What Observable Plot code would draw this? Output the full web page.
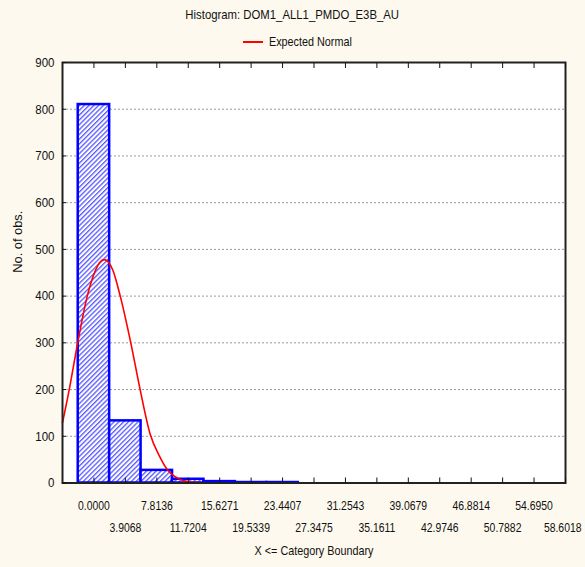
<!DOCTYPE html>
<html><head><meta charset="utf-8">
<script src="https://cdn.jsdelivr.net/npm/d3@7"></script>
<script src="https://cdn.jsdelivr.net/npm/@observablehq/plot@0.6"></script>
<style>
body{margin:0;background:#fdf9ee;width:585px;height:567px;overflow:hidden;position:relative;font-family:"Liberation Sans",Arial,sans-serif;color:#111;}
#title{position:absolute;top:6px;left:0;width:585px;text-align:center;font-size:13.5px;line-height:18px;}
#title span{display:inline-block;transform:scaleX(0.84);transform-origin:center;}
#legend{position:absolute;top:33px;left:243px;font-size:13.5px;line-height:18px;display:flex;align-items:center;}
#legend svg{margin-right:6px}
#legend span{display:inline-block;transform:scaleX(0.8);transform-origin:left center;}
#chart{position:absolute;top:54px;left:0}
</style></head><body>
<div id="title"><span id="titletext"></span></div>
<div id="legend"><svg width="20" height="18"><line x1="0" x2="20" y1="9" y2="9" stroke="#ff0000" stroke-width="2"/></svg><span id="legtext"></span></div>
<div id="chart"></div>
<script>
const titleText = "Histogram: DOM1_ALL1_PMDO_E3B_AU";
const legendText = "Expected Normal";
const xTitle = "X <= Category Boundary";
const yTitle = "No. of obs.";
const binWidth = 3.9068;
const binCenters = [0.0000, 3.9068, 7.8136, 11.7204, 15.6271, 19.5339, 23.4407];
const counts = [810, 133, 27, 8, 3, 1, 1];
const tickValues = [0.0000, 3.9068, 7.8136, 11.7204, 15.6271, 19.5339, 23.4407, 27.3475, 31.2543, 35.1611, 39.0679, 42.9746, 46.8814, 50.7882, 54.6950, 58.6018];
const tickLabels = ["0.0000", "3.9068", "7.8136", "11.7204", "15.6271", "19.5339", "23.4407", "27.3475", "31.2543", "35.1611", "39.0679", "42.9746", "46.8814", "50.7882", "54.6950", "58.6018"];
const yTicks = [0, 100, 200, 300, 400, 500, 600, 700, 800, 900];
const curveX = [-3.9068, -3.07, -2.02, -0.83, 0.22, 0.72, 1.28, 1.84, 2.34, 3.27, 4.58, 5.74, 6.98, 8.19, 9.06, 9.93, 11.14, 12.79, 15.28, 58.6018];
const curveY = [129, 200, 300, 400, 456, 472, 478, 472, 456, 400, 300, 200, 105, 56, 30, 15, 5, 1, 0, 0];

document.getElementById("titletext").textContent = titleText;
document.getElementById("legtext").textContent = legendText;

const bars = binCenters.map((c, i) => ({x1: c - binWidth / 2, x2: c + binWidth / 2, y: counts[i]}));
const curve = curveX.map((x, i) => ({x, y: curveY[i]}));
const labelMap = new Map(tickValues.map((v, i) => [v, tickLabels[i]]));
const evenTicks = tickValues.filter((v, i) => i % 2 === 0);
const oddTicks = tickValues.filter((v, i) => i % 2 === 1);
const lastLabel = tickLabels[tickLabels.length - 1];

const chart = Plot.plot({
  width: 585, height: 513,
  marginLeft: 62, marginRight: 20, marginTop: 8, marginBottom: 84.5,
  style: {background: "transparent", fontFamily: '"Liberation Sans",Arial,sans-serif', fontSize: "13.5px", color: "#111"},
  x: {domain: [tickValues[0] - binWidth, tickValues[tickValues.length - 1]]},
  y: {domain: [yTicks[0], yTicks[yTicks.length - 1]]},
  marks: [
    Plot.frame({fill: "white", stroke: null}),
    Plot.gridY(yTicks.slice(1, -1), {stroke: "#9a9a9a", strokeOpacity: 1, strokeDasharray: "2,2"}),
    Plot.rectY(bars, {x1: "x1", x2: "x2", y: "y", fill: "url(#hatch)", stroke: "#0000ff", strokeWidth: 2.5}),
    Plot.line(curve, {x: "x", y: "y", stroke: "#ff0000", strokeWidth: 1.6, curve: "monotone-x"}),
    Plot.frame({stroke: "#222", strokeWidth: 2}),
    Plot.axisY(yTicks, {tickSize: 0, tickPadding: 8, label: null, tickFormat: d => String(d)}),
    Plot.axisY(yTicks, {tickSize: -4, text: null, label: null}),
    Plot.axisX(evenTicks, {tickSize: 0, tickPadding: 18, label: null, fontSize: 13, tickFormat: d => labelMap.get(d)}),
    Plot.axisX(oddTicks, {tickSize: 0, tickPadding: 40, label: null, fontSize: 13, tickFormat: d => labelMap.get(d)}),
    Plot.axisX(tickValues, {anchor: "bottom", tickSize: -5, text: null, label: null}),
    Plot.axisX(tickValues, {anchor: "top", tickSize: -5, text: null, label: null}),
    Plot.text([xTitle], {frameAnchor: "bottom", dy: 72, text: d => d}),
    Plot.text([yTitle], {frameAnchor: "left", dx: -45, rotate: -90, text: d => d})
  ]
});

const ns = "http://www.w3.org/2000/svg";
const defs = document.createElementNS(ns, "defs");
defs.innerHTML = '<pattern id="hatch" patternUnits="userSpaceOnUse" width="3.4" height="3.4" patternTransform="rotate(45)"><rect width="3.4" height="3.4" fill="white"/><line x1="0.7" y1="0" x2="0.7" y2="3.4" stroke="#4646ff" stroke-width="1.2"/></pattern>';
chart.insertBefore(defs, chart.firstChild);
document.getElementById("chart").appendChild(chart);

// condense glyphs to mimic the narrow face of the original
chart.querySelectorAll("text").forEach(t => {
  const s = t.textContent;
  let f = 0.8;
  if (s === yTitle) f = 0.95;
  else if (/^\d+$/.test(s)) f = 0.85;
  const w = t.getComputedTextLength();
  if (w > 0) {
    t.setAttribute("textLength", (w * f).toFixed(2));
    t.setAttribute("lengthAdjust", "spacingAndGlyphs");
  }
  if (s === lastLabel) {
    // keep the last label inside the page, as the original does
    t.setAttribute("text-anchor", "end");
    t.setAttribute("dx", "16");
  }
});
</script>
</body></html>
